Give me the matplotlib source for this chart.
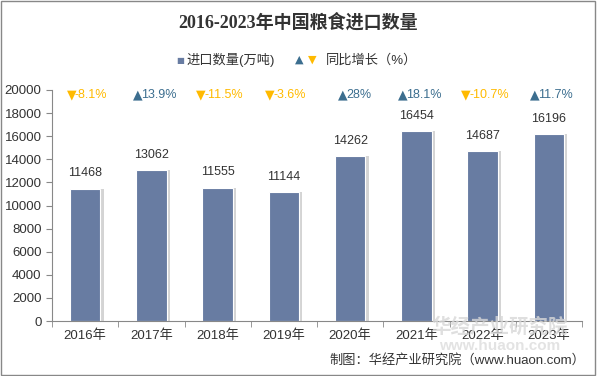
import matplotlib.pyplot as plt
import numpy as np
from matplotlib.patches import Rectangle

plt.rcParams['font.family'] = ['Liberation Sans', 'Noto Sans CJK SC']

years = ['2016年', '2017年', '2018年', '2019年', '2020年', '2021年', '2022年', '2023年']
imports = [11468, 13062, 11555, 11144, 14262, 16454, 14687, 16196]
growth = [-8.1, 13.9, -11.5, -3.6, 28, 18.1, -10.7, 11.7]
growth_text = ['-8.1%', '13.9%', '-11.5%', '-3.6%', '28%', '18.1%', '-10.7%', '11.7%']

bar_color = '#687CA2'
up_color = '#3C6E8F'
down_color = '#FFBA00'

fig = plt.figure(figsize=(5.97, 3.76), dpi=100)
ax = fig.add_axes([52 / 597, 1 - 321 / 376, 530 / 597, 231 / 376])

x = np.arange(len(years))
# shadow on the right of each bar
ax.bar(x + 0.05, imports, width=0.46, color='#d4d4d4', zorder=1)
ax.bar(x, imports, width=0.46, color=bar_color, edgecolor='white', linewidth=0.8, zorder=2)

for i, v in enumerate(imports):
    ax.text(i, v + 800, str(v), ha='center', va='bottom', fontsize=9, color='#333333')

for i, g in enumerate(growth):
    if g >= 0:
        sym, c = '▲', up_color
    else:
        sym, c = '▼', down_color
    t = growth_text[i]
    w = 4.6 * len(t)  # rough text width in points
    ax.annotate(sym, (i, 19600), xytext=(-w / 2 + 5, 0), textcoords='offset points',
                ha='right', va='center', fontsize=9, color=c, family=['DejaVu Sans'])
    ax.annotate(t, (i, 19600), xytext=(-w / 2 + 4, 0), textcoords='offset points',
                ha='left', va='center', fontsize=9, color=c)

ax.set_xlim(-0.5, len(years) - 0.5)
ax.set_ylim(0, 20000)
ax.set_yticks(np.arange(0, 20001, 2000))
ax.set_xticks(x)
ax.set_xticklabels(years, fontsize=9.5, color='#333333')
ax.tick_params(axis='y', labelsize=9.5, colors='#333333', length=4, color='#888888')
ax.tick_params(axis='x', length=0, pad=6)
ax.set_xticks(np.arange(-0.5, len(years)), minor=True)
ax.tick_params(axis='x', which='minor', length=4, color='#888888')
for s in ['top', 'right']:
    ax.spines[s].set_visible(False)
ax.spines['left'].set_color('#888888')
ax.spines['bottom'].set_color('#888888')

fig.text(0.5, 1 - 22 / 376, '2016-2023年中国粮食进口数量', ha='center', va='center',
         fontsize=13, fontweight='bold', color='#333333',
         family=['Liberation Serif', 'Noto Sans CJK SC'])

# legend
fig.text(180 / 597, 1 - 60 / 376, '■', ha='center', va='center', fontsize=6, color=bar_color,
         family=['DejaVu Sans'])
fig.text(186 / 597, 1 - 60 / 376, '进口数量(万吨)', ha='left', va='center', fontsize=9.5, color='#333333')
fig.text(299 / 597, 1 - 60 / 376, '▲', ha='center', va='center', fontsize=8, color=up_color,
         family=['DejaVu Sans'])
fig.text(312 / 597, 1 - 60 / 376, '▼', ha='center', va='center', fontsize=8, color=down_color,
         family=['DejaVu Sans'])
fig.text(326 / 597, 1 - 60 / 376, '同比增长（%）', ha='left', va='center', fontsize=9.5, color='#333333')

# watermark
fig.text(500 / 597, 1 - 327 / 376, '华经产业研究院', ha='center', va='center', fontsize=14,
         fontweight='bold', color='#d8d8d8', alpha=0.8, zorder=0)
fig.text(500 / 597, 1 - 346 / 376, 'www.huaon.com', ha='center', va='center', fontsize=11,
         fontweight='bold', color='#dcdcdc', alpha=0.8, zorder=0)

fig.text(585 / 597, 1 - 360 / 376, '制图：华经产业研究院（www.huaon.com）', ha='right', va='center',
         fontsize=9.5, color='#333333')

fig.patches.append(Rectangle((0.002, 0.003), 0.995, 0.994, transform=fig.transFigure,
                             fill=False, edgecolor='#888888', linewidth=1))

fig.savefig('out.png', dpi=100)
